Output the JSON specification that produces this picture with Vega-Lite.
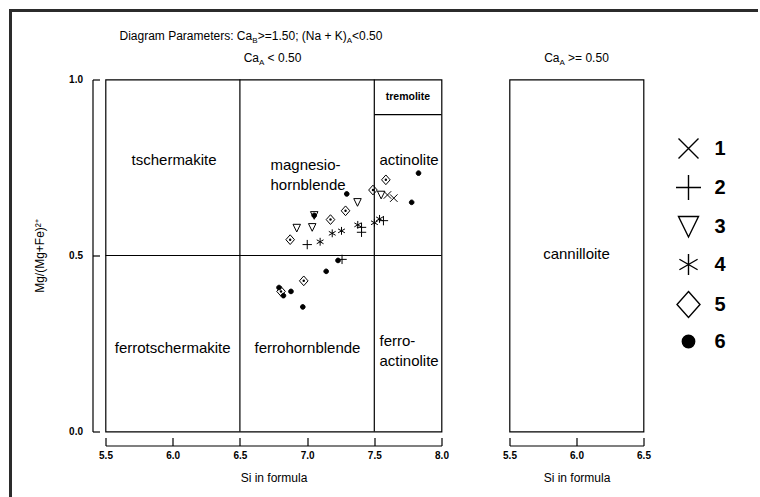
{
  "$schema": "https://vega.github.io/schema/vega-lite/v6.json",
  "background": "white",
  "padding": {"left": 7.5, "top": 7.5, "right": 0, "bottom": 0},
  "spacing": 68,
  "bounds": "flush",
  "config": {
    "view": {"stroke": "black", "strokeWidth": 1.2},
    "axis": {"grid": false, "domainColor": "black", "domainWidth": 1.2, "tickColor": "black", "tickWidth": 1.2, "labelColor": "black", "labelFont": "Liberation Sans", "labelFontSize": 10, "labelFontWeight": "bold", "titleColor": "black", "titleFont": "Liberation Sans", "titleFontSize": 12, "titleFontWeight": "normal"},
    "axisX": {"offset": 14, "tickSize": -8, "labelPadding": 13, "titlePadding": 12, "labelFlush": false, "labelAngle": 0},
    "axisY": {"offset": 13, "tickSize": -7, "labelPadding": 17, "titlePadding": 22},
    "legend": {"symbolStrokeWidth": 1.4, "symbolStrokeColor": "black"},
    "text": {"font": "Liberation Sans", "color": "black"}
  },
  "datasets": {
    "points": [
      {"group": "1", "si": 7.598, "mg": 0.672},
      {"group": "1", "si": 7.645, "mg": 0.663},
      {"group": "2", "si": 7.001, "mg": 0.531},
      {"group": "2", "si": 7.260, "mg": 0.489},
      {"group": "2", "si": 7.405, "mg": 0.580},
      {"group": "2", "si": 7.405, "mg": 0.566},
      {"group": "2", "si": 7.568, "mg": 0.599},
      {"group": "3", "si": 6.923, "mg": 0.578},
      {"group": "3", "si": 7.038, "mg": 0.580},
      {"group": "3", "si": 7.053, "mg": 0.614},
      {"group": "3", "si": 7.375, "mg": 0.651},
      {"group": "3", "si": 7.551, "mg": 0.672},
      {"group": "4", "si": 7.097, "mg": 0.539},
      {"group": "4", "si": 7.187, "mg": 0.563},
      {"group": "4", "si": 7.256, "mg": 0.570},
      {"group": "4", "si": 7.377, "mg": 0.587},
      {"group": "4", "si": 7.501, "mg": 0.593},
      {"group": "4", "si": 7.539, "mg": 0.604},
      {"group": "5", "si": 6.874, "mg": 0.545},
      {"group": "5", "si": 6.975, "mg": 0.428},
      {"group": "5", "si": 7.174, "mg": 0.602},
      {"group": "5", "si": 7.286, "mg": 0.627},
      {"group": "5", "si": 7.490, "mg": 0.686},
      {"group": "5", "si": 7.586, "mg": 0.715},
      {"group": "5", "si": 6.806, "mg": 0.398},
      {"group": "6", "si": 7.295, "mg": 0.675},
      {"group": "6", "si": 7.829, "mg": 0.734},
      {"group": "6", "si": 7.778, "mg": 0.651},
      {"group": "6", "si": 7.142, "mg": 0.455},
      {"group": "6", "si": 7.230, "mg": 0.486},
      {"group": "6", "si": 6.880, "mg": 0.398},
      {"group": "6", "si": 6.968, "mg": 0.354},
      {"group": "6", "si": 6.791, "mg": 0.409},
      {"group": "6", "si": 6.824, "mg": 0.386},
      {"group": "6", "si": 7.053, "mg": 0.614}
    ],
    "lines": [
      {"si": 6.5, "si2": 6.5, "mg": 0, "mg2": 1},
      {"si": 7.5, "si2": 7.5, "mg": 0, "mg2": 1},
      {"si": 5.5, "si2": 8.0, "mg": 0.5, "mg2": 0.5},
      {"si": 7.5, "si2": 8.0, "mg": 0.9, "mg2": 0.9}
    ],
    "frame": [
      {"si": 4.7932, "si2": 10.3438, "mg": 1.196, "mg2": 1.196},
      {"si": 4.7932, "si2": 4.7932, "mg": 1.196, "mg2": -0.1818}
    ],
    "labelsCenter": [
      {"t": "tschermakite", "si": 6.01, "mg": 0.770},
      {"t": "ferrotschermakite", "si": 6.0, "mg": 0.236},
      {"t": "ferrohornblende", "si": 7.003, "mg": 0.236}
    ],
    "labelsLeft": [
      {"t": "magnesio-\nhornblende", "si": 6.7277, "mg": 0.756},
      {"t": "actinolite", "si": 7.5387, "mg": 0.770},
      {"t": "ferro-\nactinolite", "si": 7.5387, "mg": 0.256}
    ],
    "titleMain": [
      {"t": "Diagram Parameters: Ca", "si": 5.6042, "mg": 1.1122},
      {"t": ">=1.50; (Na + K)", "si": 6.6332, "mg": 1.1122},
      {"t": "<0.50", "si": 7.3348, "mg": 1.1122},
      {"t": "Ca", "si": 6.5283, "mg": 1.0503},
      {"t": "< 0.50", "si": 6.7062, "mg": 1.0503}
    ],
    "titleSub": [
      {"t": "B", "si": 6.5915, "mg": 1.1122},
      {"t": "A", "si": 7.2954, "mg": 1.1122},
      {"t": "A", "si": 6.6421, "mg": 1.0503}
    ]
  },
  "hconcat": [
    {
      "width": 336,
      "height": 352,
      "layer": [
        {
          "data": {"name": "frame"},
          "mark": {"type": "rule", "stroke": "#2b2b2b", "strokeWidth": 3, "strokeCap": "square"},
          "encoding": {
            "x": {"field": "si", "type": "quantitative", "scale": {"domain": [5.5, 8.0], "nice": false, "zero": false}, "axis": {"values": [5.5, 6.0, 6.5, 7.0, 7.5, 8.0], "format": ".1f", "title": "Si in formula"}},
            "x2": {"field": "si2"},
            "y": {"field": "mg", "type": "quantitative", "scale": {"domain": [0, 1], "nice": false, "zero": false}, "axis": {"values": [0, 0.5, 1.0], "format": ".1f", "title": "Mg/(Mg+Fe)²⁺"}},
            "y2": {"field": "mg2"}
          }
        },
        {
          "data": {"name": "lines"},
          "mark": {"type": "rule", "stroke": "black", "strokeWidth": 1.2},
          "encoding": {
            "x": {"field": "si", "type": "quantitative"},
            "x2": {"field": "si2"},
            "y": {"field": "mg", "type": "quantitative"},
            "y2": {"field": "mg2"}
          }
        },
        {
          "data": {"name": "points"},
          "mark": {"type": "point", "filled": false, "strokeWidth": 1, "size": 56, "opacity": 1},
          "encoding": {
            "x": {"field": "si", "type": "quantitative"},
            "y": {"field": "mg", "type": "quantitative"},
            "shape": {
              "field": "group", "type": "nominal",
              "scale": {"domain": ["1", "2", "3", "4", "5", "6"], "range": ["M-1,-1L1,1M-1,1L1,-1", "M-1.25,0L1.25,0M0,-1.25L0,1.25", "M-1,-1L1,-1L0,1.05Z", "M0,-1.05L0,1.05M-0.91,-0.525L0.91,0.525M-0.91,0.525L0.91,-0.525", "M0,-1.3L1.15,0L0,1.3L-1.15,0Z", "M0.62,0A0.62,0.62,0,1,1,-0.62,0A0.62,0.62,0,1,1,0.62,0Z"]},
              "legend": {"title": null, "orient": "none", "legendX": 572, "legendY": 58, "padding": 0, "symbolSize": 400, "symbolStrokeWidth": 1.4, "labelFontSize": 20, "labelFontWeight": "bold", "labelFont": "Liberation Sans", "labelColor": "black", "labelOffset": 15, "rowPadding": 10}
            },
            "fill": {
              "field": "group", "type": "nominal",
              "scale": {"domain": ["1", "2", "3", "4", "5", "6"], "range": ["transparent", "transparent", "transparent", "transparent", "transparent", "black"]},
              "legend": {"title": null, "orient": "none", "legendX": 572, "legendY": 58, "padding": 0, "symbolSize": 400, "symbolStrokeWidth": 1.4, "labelFontSize": 20, "labelFontWeight": "bold", "labelFont": "Liberation Sans", "labelColor": "black", "labelOffset": 15, "rowPadding": 10}
            },
            "stroke": {
              "field": "group", "type": "nominal",
              "scale": {"domain": ["1", "2", "3", "4", "5", "6"], "range": ["black", "black", "black", "black", "black", "black"]},
              "legend": {"title": null, "orient": "none", "legendX": 572, "legendY": 58, "padding": 0, "symbolSize": 400, "symbolStrokeWidth": 1.4, "labelFontSize": 20, "labelFontWeight": "bold", "labelFont": "Liberation Sans", "labelColor": "black", "labelOffset": 15, "rowPadding": 10}
            }
          }
        },
        {
          "data": {"name": "points"},
          "transform": [{"filter": "datum.group === '5'"}],
          "mark": {"type": "point", "shape": "circle", "filled": true, "fill": "black", "strokeWidth": 0, "size": 6, "opacity": 1},
          "encoding": {
            "x": {"field": "si", "type": "quantitative"},
            "y": {"field": "mg", "type": "quantitative"}
          }
        },
        {
          "data": {"name": "labelsCenter"},
          "mark": {"type": "text", "fontSize": 15, "align": "center", "baseline": "middle"},
          "encoding": {
            "x": {"field": "si", "type": "quantitative"},
            "y": {"field": "mg", "type": "quantitative"},
            "text": {"field": "t"}
          }
        },
        {
          "data": {"name": "labelsLeft"},
          "mark": {"type": "text", "fontSize": 15, "align": "left", "baseline": "middle", "lineBreak": "\n", "lineHeight": 20},
          "encoding": {
            "x": {"field": "si", "type": "quantitative"},
            "y": {"field": "mg", "type": "quantitative"},
            "text": {"field": "t"}
          }
        },
        {
          "data": {"values": [{"t": "tremolite", "si": 7.75, "mg": 0.949}]},
          "mark": {"type": "text", "fontSize": 10.5, "fontWeight": "bold", "align": "center", "baseline": "middle"},
          "encoding": {
            "x": {"field": "si", "type": "quantitative"},
            "y": {"field": "mg", "type": "quantitative"},
            "text": {"field": "t"}
          }
        },
        {
          "data": {"name": "titleMain"},
          "mark": {"type": "text", "fontSize": 12, "align": "left", "baseline": "alphabetic"},
          "encoding": {
            "x": {"field": "si", "type": "quantitative"},
            "y": {"field": "mg", "type": "quantitative"},
            "text": {"field": "t"}
          }
        },
        {
          "data": {"name": "titleSub"},
          "mark": {"type": "text", "fontSize": 8, "align": "left", "baseline": "alphabetic", "dy": 3},
          "encoding": {
            "x": {"field": "si", "type": "quantitative"},
            "y": {"field": "mg", "type": "quantitative"},
            "text": {"field": "t"}
          }
        }
      ]
    },
    {
      "width": 134,
      "height": 352,
      "layer": [
        {
          "data": {"values": [{"t": "cannilloite", "si": 6.0, "mg": 0.503}]},
          "mark": {"type": "text", "fontSize": 15, "align": "center", "baseline": "middle"},
          "encoding": {
            "x": {"field": "si", "type": "quantitative", "scale": {"domain": [5.5, 6.5], "nice": false, "zero": false}, "axis": {"values": [5.5, 6.0, 6.5], "format": ".1f", "title": "Si in formula"}},
            "y": {"field": "mg", "type": "quantitative", "scale": {"domain": [0, 1], "nice": false, "zero": false}, "axis": null},
            "text": {"field": "t"}
          }
        },
        {
          "data": {"values": [{"t": "Ca", "si": 5.759, "mg": 1.0503}, {"t": ">= 0.50", "si": 5.9373, "mg": 1.0503}]},
          "mark": {"type": "text", "fontSize": 12, "align": "left", "baseline": "alphabetic"},
          "encoding": {
            "x": {"field": "si", "type": "quantitative"},
            "y": {"field": "mg", "type": "quantitative"},
            "text": {"field": "t"}
          }
        },
        {
          "data": {"values": [{"t": "A", "si": 5.8731, "mg": 1.0503}]},
          "mark": {"type": "text", "fontSize": 8, "align": "left", "baseline": "alphabetic", "dy": 3},
          "encoding": {
            "x": {"field": "si", "type": "quantitative"},
            "y": {"field": "mg", "type": "quantitative"},
            "text": {"field": "t"}
          }
        }
      ]
    }
  ]
}
